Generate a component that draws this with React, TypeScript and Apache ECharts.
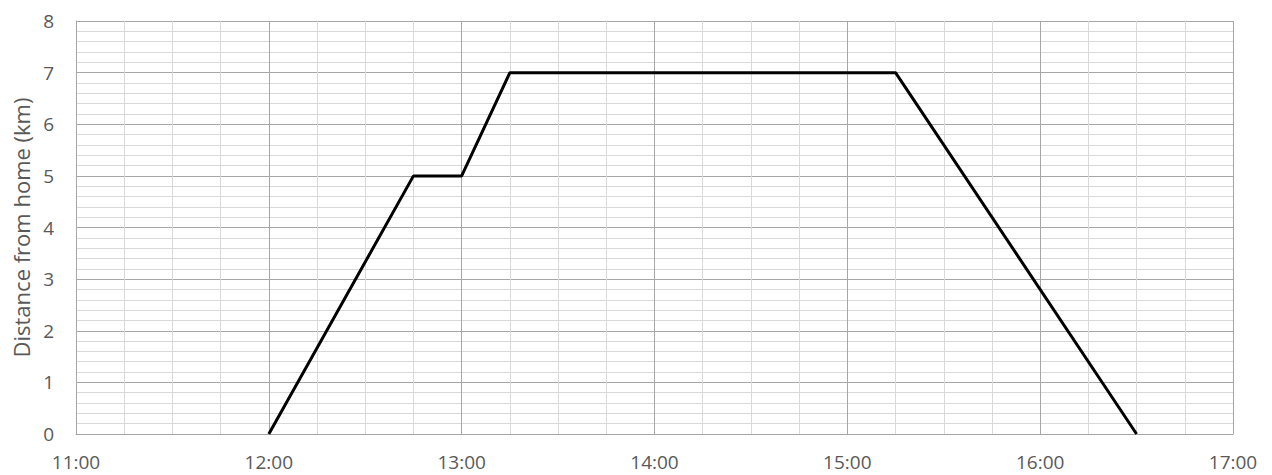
import React, { useEffect, useRef } from "react";
import * as echarts from "echarts";

const times = ["12:00", "12:45", "13:00", "13:15", "15:15", "16:30"];
const distances = [0, 5, 5, 7, 7, 0];
const xTickLabels = ["11:00", "12:00", "13:00", "14:00", "15:00", "16:00", "17:00"];
const yAxisTitle = "Distance from home (km)";

const toHours = (t: string) => {
  const [h, m] = t.split(":").map(Number);
  return h + m / 60;
};

export default function App() {
  const ref = useRef<HTMLDivElement>(null);
  useEffect(() => {
    if (!ref.current) return;
    const chart = echarts.init(ref.current, undefined, { renderer: "svg" });
    const data = times.map((t, i) => [toHours(t), distances[i]]);
    const font = "'Open Sans', 'Liberation Sans', sans-serif";
    chart.setOption({
      animation: false,
      grid: { left: 76, right: 39, top: 21, bottom: 41 },
      xAxis: {
        type: "value",
        min: 11,
        max: 17,
        interval: 1,
        axisLine: { show: true, lineStyle: { color: "#a6a6a6", width: 1 } },
        axisTick: { show: false },
        axisLabel: {
          color: "#595959",
          fontFamily: font,
          fontSize: 19,
          margin: 18,
          formatter: (v: number) => xTickLabels[Math.round(v - 11)] ?? "",
        },
        splitLine: { show: true, lineStyle: { color: "#a6a6a6", width: 1 } },
        minorTick: { show: false, splitNumber: 4 },
        minorSplitLine: { show: true, lineStyle: { color: "#d9d9d9", width: 1 } },
      },
      yAxis: {
        type: "value",
        min: 0,
        max: 8,
        interval: 1,
        name: yAxisTitle,
        nameLocation: "middle",
        nameGap: 43,
        nameTextStyle: { color: "#595959", fontFamily: font, fontSize: 22 },
        axisLine: { show: true, lineStyle: { color: "#a6a6a6", width: 1 } },
        axisTick: { show: false },
        axisLabel: { color: "#595959", fontFamily: font, fontSize: 19, margin: 22 },
        splitLine: { show: true, lineStyle: { color: "#a6a6a6", width: 1 } },
        minorTick: { show: false, splitNumber: 5 },
        minorSplitLine: { show: true, lineStyle: { color: "#d9d9d9", width: 1 } },
      },
      series: [
        {
          type: "line",
          data,
          symbol: "none",
          lineStyle: { color: "#000000", width: 3 },
        },
      ],
    });
    return () => chart.dispose();
  }, []);
  return (
    <div
      ref={ref}
      style={{ position: "absolute", left: 0, top: 0, width: 1272, height: 475, background: "#fff" }}
    />
  );
}
